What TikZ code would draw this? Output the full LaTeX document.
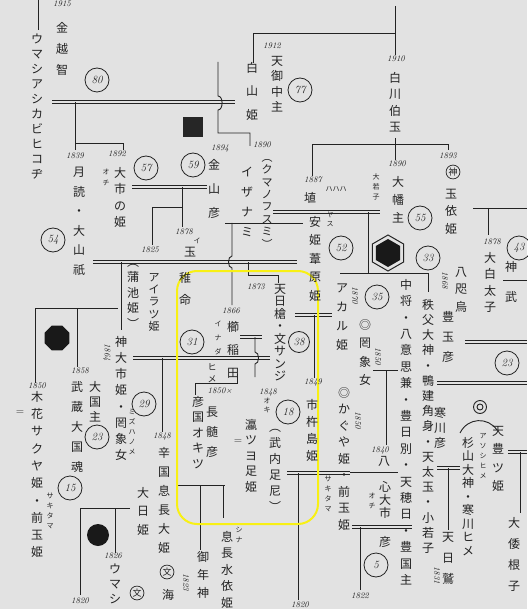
\documentclass[tikz,border=0pt]{standalone}
\usepackage{fontspec}
\newfontfamily\jp{Noto Sans CJK JP}
\usetikzlibrary{shapes.geometric}
\definecolor{bg}{RGB}{226,226,226}
\definecolor{ink}{RGB}{35,35,35}
\definecolor{hl}{RGB}{248,240,20}
\let\VtEnd\relax
\def\Vt#1{\vbox{\VtLoop#1\VtEnd}}
\def\VtLoop#1{\ifx\VtEnd#1\else\hbox to1em{\hss#1\hss}\expandafter\VtLoop\fi}
\tikzset{
  vt/.style={font={\jp\fontsize{12}{#1}\selectfont\lineskiplimit=-50pt\relax}, inner sep=0pt, anchor=north, text=ink},
  vt/.default=16,
  vs/.style={font={\jp\fontsize{7}{#1}\selectfont\lineskiplimit=-50pt\relax}, inner sep=0pt, anchor=north, text=ink},
  vs/.default=9,
  yr/.style={font={\fontsize{8.5}{9}\selectfont\itshape}, inner sep=0pt, text=ink},
  num/.style={circle, draw=ink, line width=0.8pt, minimum size=24pt, inner sep=0pt, font={\fontsize{11}{11}\selectfont\itshape}, text=ink},
  cj/.style={circle, draw=ink, line width=0.7pt, inner sep=0.6pt, font={\jp\fontsize{9}{9}\selectfont}, text=ink},
  ln/.style={draw=ink, line width=0.9pt},
  dbl/.style={draw=ink, line width=0.8pt, double=bg, double distance=1.6pt},
}
\begin{document}
\begin{tikzpicture}[x=1pt,y=-1pt]
\useasboundingbox (0,0) rectangle (527,609);
\fill[bg] (0,0) rectangle (527,609);

% ---------- connectors ----------
\draw[ln] (38,0) -- (38,30);
\draw[dbl] (52,102) -- (235,102);
\draw[ln] (218,62) -- (218,96) to[out=0,in=0] (218,110) -- (218,133) -- (250,133) -- (250,146);
\draw[ln] (75,102) -- (75,150);
\draw[ln] (75,143) -- (123,143) -- (123,150);
\draw[ln] (253,63) -- (253,33) -- (395,33);
\draw[ln] (395,6) -- (395,55);
\draw[ln] (395,138) -- (395,160);
\draw[ln] (312,176) -- (312,144) -- (448,144) -- (448,150);
\draw[dbl] (132,187) -- (207,187);
\draw[ln] (182,187) -- (182,227);
\draw[ln] (152,245) -- (152,207) -- (182,207);
\draw[dbl] (93,262) -- (297,262);
\draw[ln] (121,262) -- (121,330);
\draw[ln] (35,383) -- (35,308) -- (118,308);
\draw[ln] (77,308) -- (77,367);
\draw[dbl] (133,358) -- (270,358);
\draw[ln] (162,358) -- (162,432);
\draw[ln] (225,223) -- (303,223);
\draw[ln] (232,223) -- (232,256) to[out=180,in=180] (232,268) -- (232,305);
\draw[dbl] (273,212) -- (380,212);
\draw[ln] (368,212) -- (368,273);
\draw[ln] (340,273) -- (428,273) -- (428,292);
\draw[ln] (473,208) -- (527,208);
\draw[ln] (488,208) -- (488,235);
\draw[ln] (503,280) -- (527,280);
\draw[dbl] (465,342) -- (527,342);
\draw[dbl] (437,383) -- (527,383);
\draw[ln] (248,262) -- (248,275) -- (278,275) -- (278,283);
\draw[dbl] (240,337) -- (262,337);
\draw[ln] (255,337) -- (255,352) to[out=0,in=0] (255,364) -- (255,377);
\draw[ln] (237,374) -- (237,383) -- (195,383) -- (195,395);
\draw[dbl] (295,315) -- (332,315);
\draw[ln] (314,315) -- (314,378);
\draw[ln] (373,370) -- (398,370);
\draw[ln] (386,370) -- (386,445);
\draw[ln] (340,472) -- (398,472);
\draw[dbl] (352,527) -- (412,527);
\draw[ln] (360,527) -- (360,590);
\draw[dbl] (437,468) -- (460,468);
\draw[ln] (448,468) -- (448,530);
\draw[dbl] (508,452) -- (527,452);
\draw[ln] (520,452) -- (520,513);
\draw[dbl] (287,473) -- (350,473);
\draw[ln] (298,473) -- (298,600);
\draw[ln] (178,485) -- (225,485);
\draw[ln] (200,485) -- (200,550);
\draw[ln] (223,485) -- (223,518);
\draw[ln] (80,508) -- (130,508);
\draw[ln] (80,508) -- (80,595);
\draw[ln] (115,508) -- (115,553);
\draw[ln] (460,433) .. controls (468,417) and (488,417) .. (497,430);

% ---------- highlight ----------
\draw[hl, line width=2pt, rounded corners=20pt] (177,271) rectangle (318,524);

% ---------- emblems ----------
\node (sq) at (193,127) [rectangle, fill=black!85, minimum size=20pt, inner sep=0pt] {};
\node (hexo) at (388,253) [regular polygon, regular polygon sides=6, shape border rotate=30, draw=ink, line width=1pt, fill=bg, minimum size=36pt, inner sep=0pt] {};
\node (hexi) at (388,253) [regular polygon, regular polygon sides=6, shape border rotate=30, fill=black!90, minimum size=28pt, inner sep=0pt] {};
\node (oct) at (57,338) [regular polygon, regular polygon sides=8, fill=black!90, minimum size=27pt, inner sep=0pt] {};
\node (dot) at (98,535) [circle, fill=black!90, minimum size=22pt, inner sep=0pt] {};
\node (ring1) at (480,407) [circle, draw=ink, line width=0.9pt, minimum size=13pt, inner sep=0pt] {};
\node (ring2) at (480,407) [circle, draw=ink, line width=0.9pt, minimum size=6pt, inner sep=0pt] {};

% ---------- numbered circles ----------
\node[num] (c80) at (97,80) {80};
\node[num] (c77) at (300,90) {77};
\node[num] (c57) at (146,168) {57};
\node[num] (c59) at (193,165) {59};
\node[num] (c54) at (53,240) {54};
\node[num] (c55) at (420,218) {55};
\node[num] (c52) at (341,248) {52};
\node[num] (c33) at (428,258) {33};
\node[num] (c35) at (377,297) {35};
\node[num] (c43) at (519,248) {43};
\node[num] (c31) at (192,342) {31};
\node[num, minimum size=21pt] (c38) at (299,342) {38};
\node[num] (c18) at (288,412) {18};
\node[num] (c29) at (144,404) {29};
\node[num] (c23a) at (97,437) {23};
\node[num] (c15) at (70,488) {15};
\node[num] (c23b) at (507,363) {23};
\node[num] (c5) at (376,565) {5};
\node[cj] (kami) at (453,172) {神};
\node[cj] (bun1) at (167,572) {文};
\node[cj] (bun2) at (137,593) {文};

% ---------- years ----------
\node[yr] (y1) at (62,4) {1915};
\node[yr] (y2) at (272,46) {1912};
\node[yr] (y3) at (396,59) {1910};
\node[yr] (y4) at (397,164) {1890};
\node[yr] (y5) at (448,156) {1893};
\node[yr] (y6) at (313,180) {1887};
\node[yr] (y7) at (75,156) {1839};
\node[yr] (y8) at (117,154) {1892};
\node[yr] (y9) at (220,148) {1894};
\node[yr] (y10) at (262,145) {1890};
\node[yr] (y11) at (150,250) {1825};
\node[yr] (y12) at (184,232) {1878};
\node[yr] (y13) at (492,242) {1878};
\node[yr] (y14) at (256,287) {1873};
\node[yr] (y15) at (231,311) {1866};
\node[yr] (y16) at (220,391) {1850×};
\node[yr] (y17) at (268,392) {1848};
\node[yr] (y18) at (313,382) {1849};
\node[yr] (y19) at (80,371) {1858};
\node[yr] (y20) at (37,386) {1850};
\node[yr] (y21) at (162,436) {1848};
\node[yr] (y22) at (113,556) {1826};
\node[yr] (y23) at (80,601) {1820};
\node[yr] (y24) at (300,605) {1820};
\node[yr] (y25) at (360,596) {1822};
\node[yr] (y26) at (380,450) {1840};
\node[yr, rotate=-90] (r1) at (445,280) {1868};
\node[yr, rotate=-90] (r2) at (355,295) {1870};
\node[yr, rotate=-90] (r3) at (107,352) {1864};
\node[yr, rotate=-90] (r4) at (378,356) {1850};
\node[yr, rotate=-90] (r5) at (358,420) {1850};
\node[yr, rotate=-90] (r6) at (437,575) {1831};
\node[yr, rotate=-90] (r7) at (186,582) {1823};

% ---------- names ----------
\node[vt=21] (t1) at (62,22) {\Vt{金越智}};
\node[vt=15] (t2) at (37,34) {\Vt{ウマシアシカビヒコヂ}};
\node[vt=15.5] (t3) at (277,56) {\Vt{天御中主}};
\node[vt=23.5] (t4) at (252,62) {\Vt{白山姫}};
\node[vt=16.5] (t5) at (395,72) {\Vt{白川伯玉}};
\node[vt=18] (t6) at (398,176) {\Vt{大幡主}};
\node[vs=10] (t7) at (376,173) {\Vt{大若子}};
\node[vt=17.5] (t8) at (451,189) {\Vt{玉依姫}};
\node[vt] (t9) at (310,192) {\Vt{埴}};
\node[vs] (t10) at (336,186) {ハハハ};
\node[vt=19.5] (t11) at (79,167) {\Vt{月読・大山祇}};
\node[vt=16.5] (t12) at (120,167) {\Vt{大市の姫}};
\node[vs=11] (t13) at (106,169) {\Vt{オチ}};
\node[vt=24] (t14) at (214,159) {\Vt{金山彦}};
\node[vt=20] (t15) at (247,167) {\Vt{イザナミ}};
\node[vt=12.4, font={\jp\fontsize{11}{12.4}\selectfont\lineskiplimit=-50pt\relax}] (t16) at (267,159) {\Vt{︵クマノフスミ︶}};
\node[vt=18.5] (t17) at (315,216) {\Vt{安姫葦原姫}};
\node[vs] (t18) at (330,212) {\Vt{ヤス}};
\node[vt=16.5] (t19) at (490,252) {\Vt{大白太子}};
\node[vt=30] (t20) at (511,261) {\Vt{神武}};
\node[vt=17.5] (t21) at (461,267) {\Vt{八咫烏}};
\node[vt=20] (t22) at (448,311) {\Vt{豊玉彦}};
\node[vt=15.2] (t23) at (428,299) {\Vt{秩父大神・鴨建角身・天太玉・小若子}};
\node[vt=16.4] (t24) at (406,279) {\Vt{中将・八意思兼・豊日別・天穂日・豊国主}};
\node[vt=19] (t25) at (342,284) {\Vt{アカル姫}};
\node[vt=18.5] (t26) at (365,319) {\Vt{◎罔象女}};
\node[align=center, inner sep=0pt, anchor=north, text=ink, font={\jp\fontsize{12}{12.5}\selectfont}] (t27) at (280,284) {天\\日\\槍\\・\\文\\サ\\ン\\ジ};
\node[vt=23] (t28) at (233,321) {\Vt{櫛稲田}};
\node[vt=12, font={\jp\fontsize{9}{12}\selectfont\lineskiplimit=-50pt\relax}] (t29) at (212,363) {\Vt{ヒメ}};
\node[vs=14] (t30) at (218,321) {\Vt{イナダ}};
\node[vt=22] (t31) at (185,272) {\Vt{稚命}};
\node[vt] (t32) at (190,247) {\Vt{玉}};
\node[vs] (t33) at (197,238) {イ};
\node[vt=15.5] (t34) at (198,396) {\Vt{彦国オキツ}};
\node[vt=20] (t35) at (212,407) {\Vt{長髄彦}};
\node[vt=15.5] (t36) at (251,419) {\Vt{瀛ツヨ足姫}};
\node[vs] (t37) at (267,398) {\Vt{オキ}};
\node[vt=16] (t38) at (275,429) {\Vt{︵武内足尼︶}};
\node[vt=17] (t39) at (312,399) {\Vt{市杵島姫}};
\node[vt=16.5] (t40) at (344,387) {\Vt{◎かぐや姫・前玉姫}};
\node[vs=10] (t41) at (328,476) {\Vt{サキタマ}};
\node[vt] (t42) at (384,456) {\Vt{八}};
\node[vt=13] (t43) at (385,481) {\Vt{心大市}};
\node[vs=10] (t44) at (372,493) {\Vt{オチ}};
\node[vt] (t45) at (385,536) {\Vt{彦}};
\node[vt=21] (t46) at (448,532) {\Vt{天日鷲}};
\node[vt=15] (t47) at (440,407) {\Vt{寒川彦}};
\node[vt=18.5] (t48) at (498,426) {\Vt{天豊ツ姫}};
\node[vt=13.5] (t49) at (468,437) {\Vt{杉山大神・寒川ヒメ}};
\node[vs=10] (t50) at (483,433) {\Vt{アソシヒメ}};
\node[vt=21] (t51) at (514,517) {\Vt{大倭根子}};
\node[vt=12.3, font={\jp\fontsize{11}{12.3}\selectfont\lineskiplimit=-50pt\relax}] (t52) at (154,273) {\Vt{アイラツ姫}};
\node[vt=15.5] (t53) at (133,264) {\Vt{︵蒲池姫︶}};
\node[vt=16.2] (t54) at (121,336) {\Vt{神大市姫・罔象女}};
\node[vs=10] (t55) at (132,409) {\Vt{ミズハノメ}};
\node[vt=20] (t56) at (77,381) {\Vt{武蔵大国魂}};
\node[vt=15] (t57) at (95,381) {\Vt{大国主}};
\node[vt=19] (t58) at (164,447) {\Vt{辛国息長大姫}};
\node[vt=18.5] (t59) at (143,487) {\Vt{大日姫}};
\node[vt=15] (t60) at (115,564) {\Vt{ウマシ}};
\node[vt] (t61) at (168,589) {\Vt{海}};
\node[vt=18] (t62) at (203,551) {\Vt{御年神}};
\node[vt=16.5] (t63) at (227,531) {\Vt{息長水依姫}};
\node[vs=10] (t64) at (239,527) {\Vt{シナ}};
\node[vt=17.3] (t65) at (37,391) {\Vt{木花サクヤ姫・前玉姫}};
\node[vs=10] (t66) at (50,493) {\Vt{サキタマ}};
\node[font=\fontsize{11}{11}\selectfont, text=ink] (eq1) at (20,413) {=};
\node[font=\fontsize{11}{11}\selectfont, text=ink] (eq2) at (238,442) {=};
\end{tikzpicture}
\end{document}
